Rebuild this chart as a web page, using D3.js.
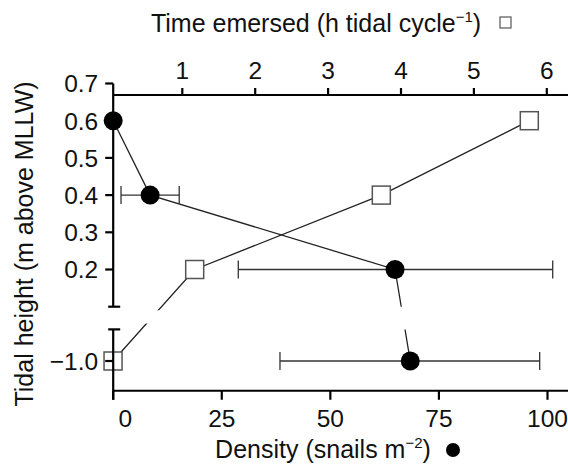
<!DOCTYPE html>
<html>
<head>
<meta charset="utf-8">
<script src="https://cdn.jsdelivr.net/npm/d3@7"></script>
<style>
  body { margin: 0; background: #fff; }
  svg { display: block; font-family: "Liberation Sans", Arial, sans-serif; }
</style>
</head>
<body>
<div id="chart"></div>
<script>
// data
const heights = [0.6, 0.4, 0.2, -1.0];          // tidal height (m above MLLW)
const density = [0, 8.5, 64.9, 68.4];           // snails m-2 (filled circles)
const densityLo = [null, 1.8, 28.8, 38.4];      // error bar ends
const densityHi = [null, 15.2, 101.2, 98.2];
const emersed = [5.76, 3.73, 1.17, 0.05];       // h tidal cycle-1 (open squares)

const upperTicks = [0.2, 0.3, 0.4, 0.5, 0.6, 0.7];
const lowerTicks = [-1.0];
const densityTicks = [0, 25, 50, 75, 100];
const timeTicks = [1, 2, 3, 4, 5, 6];

const W = 568, H = 472;
const svg = d3.select("#chart").append("svg")
  .attr("width", W).attr("height", H);

// scales
const x = d3.scaleLinear().domain([0, 100]).range([113.2, 547.5]);
const xt = d3.scaleLinear().domain([0, 6]).range([109.4, 546.8]);
const yU = d3.scaleLinear().domain([0.1, 0.7]).range([306.7, 83.5]);
const pxPerUnit = (306.7 - 83.5) / 0.6;
const yL = d3.scaleLinear().domain([-1.08, -0.915]).range([361 + 0.08 * pxPerUnit, 361 - 0.085 * pxPerUnit]);
const y = v => v >= 0 ? yU(v) : yL(v);

const left = x(0), bottom = yL.range()[0], topY = 95;

// clip bands for the axis break
const defs = svg.append("defs");
function band(id, y0, y1) {
  const cp = defs.append("clipPath").attr("id", id);
  cp.append("rect").attr("x", 0).attr("y", 0).attr("width", W).attr("height", y0);
  cp.append("rect").attr("x", 0).attr("y", y1).attr("width", W).attr("height", H - y1);
}
band("gapD", yU.range()[0], yL.range()[1]);
band("gapT", yU.range()[0] + 3.5, yL.range()[1] - 6);

const line = d3.line().x(d => d[0]).y(d => d[1]);

// lines
svg.append("path")
  .attr("d", line(heights.map((h, i) => [xt(emersed[i]), y(h)])))
  .attr("fill", "none").attr("stroke", "#222").attr("stroke-width", 1.3)
  .attr("clip-path", "url(#gapT)");
svg.append("path")
  .attr("d", line(heights.map((h, i) => [x(density[i]), y(h)])))
  .attr("fill", "none").attr("stroke", "#222").attr("stroke-width", 1.3)
  .attr("clip-path", "url(#gapD)");

// error bars
const cap = 9;
heights.forEach((h, i) => {
  if (densityLo[i] == null) return;
  const g = svg.append("g").attr("stroke", "#333").attr("stroke-width", 1.3);
  g.append("line").attr("x1", x(densityLo[i])).attr("x2", x(densityHi[i]))
    .attr("y1", y(h)).attr("y2", y(h));
  [densityLo[i], densityHi[i]].forEach(v => {
    g.append("line").attr("x1", x(v)).attr("x2", x(v))
      .attr("y1", y(h) - cap).attr("y2", y(h) + cap);
  });
});

// squares
const sq = 18;
svg.selectAll("rect.sq").data(heights).enter().append("rect")
  .attr("class", "sq")
  .attr("x", (h, i) => xt(emersed[i]) - sq / 2)
  .attr("y", h => y(h) - sq / 2)
  .attr("width", sq).attr("height", sq)
  .attr("fill", "#fff").attr("stroke", "#555").attr("stroke-width", 1.5);

// axes
const ax = svg.append("g").attr("stroke", "#000").attr("stroke-width", 2.2).attr("fill", "none");
// left upper segment
ax.append("line").attr("x1", left).attr("x2", left).attr("y1", yU(0.7)).attr("y2", yU.range()[0]);
ax.append("line").attr("x1", left - 5).attr("x2", left + 7).attr("y1", yU.range()[0]).attr("y2", yU.range()[0]);
// left lower segment
ax.append("line").attr("x1", left).attr("x2", left).attr("y1", yL.range()[1]).attr("y2", bottom + 9);
ax.append("line").attr("x1", left - 5).attr("x2", left + 7).attr("y1", yL.range()[1]).attr("y2", yL.range()[1]);
// left ticks
upperTicks.concat(lowerTicks).forEach(v => {
  ax.append("line").attr("x1", left - 8).attr("x2", left).attr("y1", y(v)).attr("y2", y(v));
});
// bottom axis
ax.append("line").attr("x1", left).attr("x2", W).attr("y1", bottom).attr("y2", bottom);
densityTicks.forEach(v => {
  ax.append("line").attr("x1", x(v)).attr("x2", x(v)).attr("y1", bottom).attr("y2", bottom + 9);
});
// top axis
ax.append("line").attr("x1", left).attr("x2", W).attr("y1", topY).attr("y2", topY);
timeTicks.forEach(v => {
  ax.append("line").attr("x1", xt(v)).attr("x2", xt(v)).attr("y1", topY).attr("y2", topY - 7);
});

// circles
svg.selectAll("circle.pt").data(heights).enter().append("circle")
  .attr("class", "pt")
  .attr("cx", (h, i) => x(density[i]))
  .attr("cy", h => y(h))
  .attr("r", 9.5).attr("fill", "#000");

// tick labels
const fs = 24.5;
const txt = svg.append("g").attr("fill", "#111").attr("font-size", fs);
upperTicks.concat(lowerTicks).forEach(v => {
  txt.append("text").attr("x", left - 15).attr("y", y(v)).attr("dy", "0.36em")
    .attr("text-anchor", "end").text(d3.format(".1f")(v).replace("-", "\u2212"));
});
densityTicks.forEach(v => {
  txt.append("text").attr("x", x(v) + (v === 0 ? 12 : 0)).attr("y", bottom + 36)
    .attr("text-anchor", "middle").text(v);
});
timeTicks.forEach(v => {
  txt.append("text").attr("x", xt(v)).attr("y", 79)
    .attr("text-anchor", "middle").text(v);
});

// axis titles
const tTop = svg.append("text").attr("x", 316).attr("y", 32)
  .attr("text-anchor", "middle").attr("font-size", 25).attr("fill", "#111");
tTop.append("tspan").text("Time emersed (h tidal cycle");
tTop.append("tspan").attr("font-size", 15).attr("dy", -10).text("\u22121");
tTop.append("tspan").attr("dy", 10).text(")");
svg.append("rect").attr("x", 500).attr("y", 17).attr("width", 11).attr("height", 11)
  .attr("fill", "#fff").attr("stroke", "#555").attr("stroke-width", 1.2);

const tBot = svg.append("text").attr("x", 323).attr("y", 458)
  .attr("text-anchor", "middle").attr("font-size", 25).attr("fill", "#111");
tBot.append("tspan").text("Density (snails m");
tBot.append("tspan").attr("font-size", 15).attr("dy", -10).text("\u22122");
tBot.append("tspan").attr("dy", 10).text(")");
svg.append("circle").attr("cx", 453).attr("cy", 450).attr("r", 7).attr("fill", "#000");

svg.append("text")
  .attr("transform", "translate(33,244) rotate(-90)")
  .attr("text-anchor", "middle").attr("font-size", 25).attr("fill", "#111")
  .text("Tidal height (m above MLLW)");
</script>
</body>
</html>
